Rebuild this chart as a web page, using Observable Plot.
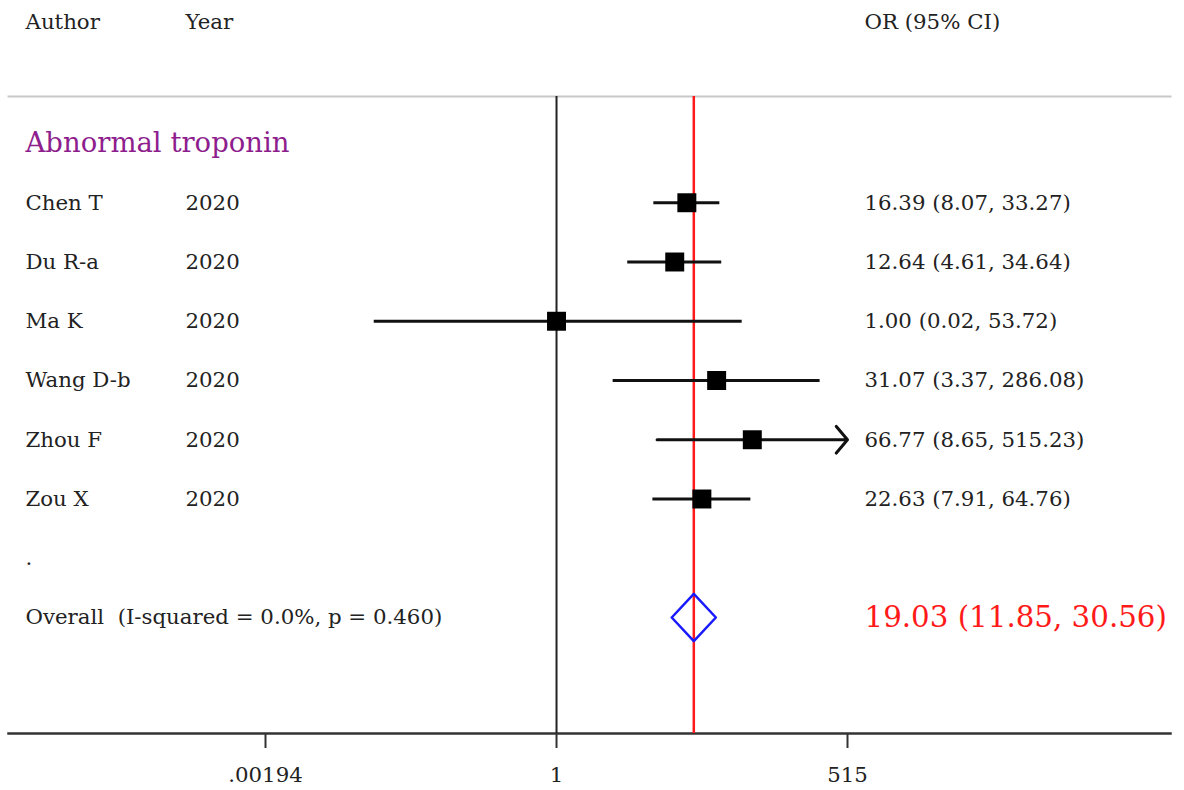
<!DOCTYPE html>
<html>
<head>
<meta charset="utf-8">
<script src="https://cdn.jsdelivr.net/npm/d3@7"></script>
<script src="https://cdn.jsdelivr.net/npm/@observablehq/plot@0.6"></script>
<style>
  html, body { margin: 0; padding: 0; background: #fff; }
</style>
</head>
<body>
<div id="chart"></div>
<script>
// ---- data ----
const headers = ["Author", "Year", "OR (95% CI)"];
const groupLabel = "Abnormal troponin";
const authors = ["Chen T", "Du R-a", "Ma K", "Wang D-b", "Zhou F", "Zou X"];
const years = ["2020", "2020", "2020", "2020", "2020", "2020"];
const oddsRatios = [16.39, 12.64, 1.00, 31.07, 66.77, 22.63];
const lowerCI = [8.07, 4.61, 0.02, 3.37, 8.65, 7.91];
const upperCI = [33.27, 34.64, 53.72, 286.08, 515.23, 64.76];
const overallLabel = "Overall  (I-squared = 0.0%, p = 0.460)";
const overallOR = 19.03;
const overallLower = 11.85;
const overallUpper = 30.56;
const tickValues = [0.00194, 1, 515];
const tickLabels = [".00194", "1", "515"];

// ---- derived table ----
const fmt = v => v.toFixed(2);
const xMax = tickValues[tickValues.length - 1];
const studies = authors.map((a, i) => ({
  author: a,
  year: years[i],
  or: oddsRatios[i],
  lo: lowerCI[i],
  hi: upperCI[i],
  hiClip: Math.min(upperCI[i], xMax),
  clipped: upperCI[i] > xMax,
  row: i + 1,
  label: `${fmt(oddsRatios[i])} (${fmt(lowerCI[i])}, ${fmt(upperCI[i])})`
}));
const ticks = tickValues.map((v, i) => ({v, label: tickLabels[i]}));
const overallRow = authors.length + 2;
const dotRow = authors.length + 1;
const dh = 0.40;
const diamond = [
  {x: overallLower, y: overallRow},
  {x: overallOR, y: overallRow - dh},
  {x: overallUpper, y: overallRow},
  {x: overallOR, y: overallRow + dh},
  {x: overallLower, y: overallRow}
];
const overallText = `${fmt(overallOR)} (${fmt(overallLower)}, ${fmt(overallUpper)})`;

const textColor = "#222";
const fs = 21.3;

const chart = Plot.plot({
  width: 1184,
  height: 790,
  marginTop: 96,
  marginBottom: 57,
  marginLeft: 8,
  marginRight: 14,
  style: {fontFamily: "'DejaVu Serif', serif", fontSize: fs + "px", color: textColor, background: "#fff"},
  x: {type: "log", domain: [tickValues[0], xMax], range: [265, 847]},
  y: {domain: [0, overallRow], range: [143, 617], axis: null},
  marks: [
    Plot.frame({anchor: "top", stroke: "#c8c8c8", strokeWidth: 2}),
    Plot.frame({anchor: "bottom", stroke: "#333", strokeWidth: 2.5}),
    Plot.ruleX([1], {stroke: "#222", strokeWidth: 2}),
    Plot.ruleX([overallOR], {stroke: "#ff1a1a", strokeWidth: 2.5}),
    Plot.ruleY(studies.filter(d => !d.clipped), {x1: "lo", x2: "hi", y: "row", stroke: "#111", strokeWidth: 3}),
    Plot.arrow(studies.filter(d => d.clipped), {x1: "lo", x2: "hiClip", y1: "row", y2: "row", stroke: "#111", strokeWidth: 3, headLength: 8.7, headAngle: 100}),
    Plot.dot(studies, {x: "or", y: "row", symbol: "square", r: 10.7, fill: "#000", stroke: "none"}),
    Plot.line(diamond, {x: "x", y: "y", stroke: "#1a1aff", strokeWidth: 2.5}),
    // headers
    Plot.text([headers[0]], {frameAnchor: "top-left", dx: 17, dy: -74, text: d => d, textAnchor: "start", lineAnchor: "middle"}),
    Plot.text([headers[1]], {frameAnchor: "top-left", dx: 177, dy: -74, text: d => d, textAnchor: "start", lineAnchor: "middle"}),
    Plot.text([headers[2]], {frameAnchor: "top-left", dx: 856, dy: -74, text: d => d, textAnchor: "start", lineAnchor: "middle"}),
    // group label
    Plot.text([groupLabel], {y: () => 0, frameAnchor: "left", dx: 17, text: d => d, textAnchor: "start", fill: "#8e1e8e", fontSize: 27.5}),
    // study rows
    Plot.text(studies, {y: "row", frameAnchor: "left", dx: 17, text: "author", textAnchor: "start"}),
    Plot.text(studies, {y: "row", frameAnchor: "left", dx: 177, text: "year", textAnchor: "start"}),
    Plot.text(studies, {y: "row", frameAnchor: "left", dx: 856, text: "label", textAnchor: "start"}),
    Plot.text(["."], {y: () => dotRow, frameAnchor: "left", dx: 17, text: d => d, textAnchor: "start"}),
    // overall
    Plot.text([overallLabel], {y: () => overallRow, frameAnchor: "left", dx: 17, text: d => d, textAnchor: "start"}),
    Plot.text([overallText], {y: () => overallRow, frameAnchor: "left", dx: 856, text: d => d, textAnchor: "start", fill: "#ff1a1a", fontSize: 29.3}),
    // axis
    Plot.axisX(tickValues, {tickSize: 15, strokeWidth: 2, stroke: "#333", tickFormat: () => "", label: null}),
    Plot.text(ticks, {x: "v", text: "label", frameAnchor: "bottom", dy: 42, lineAnchor: "middle"})
  ]
});
document.getElementById("chart").appendChild(chart);
</script>
</body>
</html>
